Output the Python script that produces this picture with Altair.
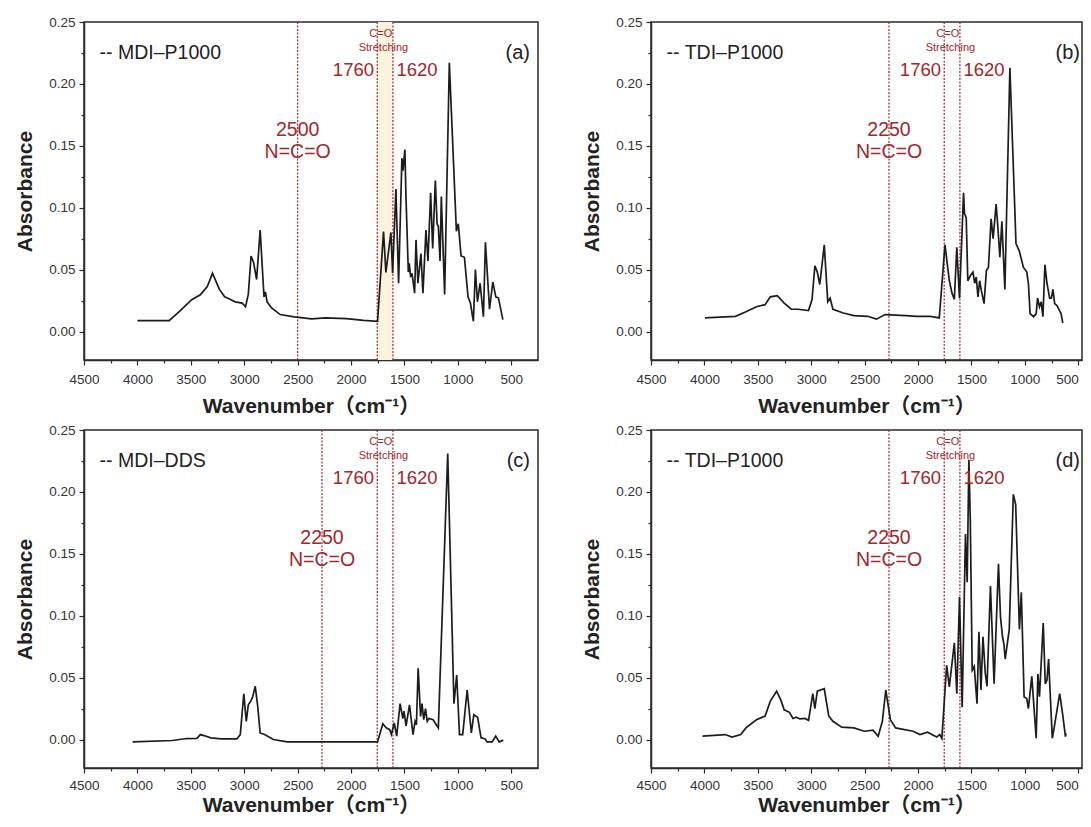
import altair as alt
import pandas as pd

# ---------------- data ----------------
wn_a = [4000, 3703, 3606, 3492, 3411, 3346, 3297, 3232, 3183, 3134, 3085, 3020, 2988, 2962, 2936, 2913, 2884, 2851,
        2815, 2802, 2786, 2744, 2663, 2532, 2370, 2240, 2045, 1882, 1752, 1696, 1674, 1627, 1611, 1580, 1555, 1524,
        1514, 1496, 1486, 1464, 1455, 1442, 1430, 1417, 1405, 1392, 1374, 1346, 1327, 1299, 1280, 1255, 1236, 1211,
        1195, 1183, 1167, 1155, 1124, 1080, 1014, 996, 970, 939, 905, 883, 855, 836, 817, 792, 761, 742, 704, 673,
        645, 620, 579]
ab_a = [0.0088, 0.0088, 0.0163, 0.0257, 0.0297, 0.0364, 0.047, 0.034, 0.028, 0.026, 0.024, 0.023, 0.020, 0.030,
        0.061, 0.056, 0.042, 0.082, 0.028, 0.032, 0.024, 0.019, 0.0137, 0.0118, 0.0102, 0.011, 0.0104, 0.009, 0.0083,
        0.0807, 0.0477, 0.080, 0.047, 0.115, 0.039, 0.140, 0.130, 0.147, 0.109, 0.048, 0.055, 0.044, 0.047, 0.039,
        0.031, 0.074, 0.039, 0.063, 0.031, 0.082, 0.057, 0.112, 0.067, 0.122, 0.087, 0.085, 0.057, 0.109, 0.030,
        0.217, 0.081, 0.087, 0.061, 0.060, 0.028, 0.023, 0.0083, 0.050, 0.024, 0.039, 0.012, 0.072, 0.018, 0.040,
        0.028, 0.027, 0.0096]

wn_b = [3995, 3709, 3611, 3513, 3432, 3383, 3318, 3253, 3187, 3122, 3025, 2992, 2966, 2943, 2920, 2878, 2845, 2823,
        2797, 2699, 2601, 2471, 2390, 2308, 2113, 2015, 1885, 1801, 1748, 1707, 1682, 1660, 1637, 1612, 1574, 1565,
        1549, 1534, 1511, 1486, 1470, 1455, 1439, 1423, 1407, 1382, 1360, 1341, 1316, 1297, 1269, 1250, 1234, 1215,
        1187, 1140, 1083, 1052, 1014, 982, 967, 951, 919, 894, 881, 863, 847, 831, 812, 793, 768, 752, 737, 721,
        699, 677, 661, 645]
ab_b = [0.011, 0.0123, 0.016, 0.020, 0.0217, 0.028, 0.029, 0.023, 0.018, 0.018, 0.017, 0.026, 0.053, 0.048, 0.038,
        0.070, 0.024, 0.027, 0.018, 0.015, 0.0128, 0.0123, 0.010, 0.0137, 0.0128, 0.0123, 0.0123, 0.011, 0.070,
        0.041, 0.031, 0.026, 0.068, 0.027, 0.112, 0.095, 0.092, 0.041, 0.045, 0.048, 0.039, 0.044, 0.028, 0.041,
        0.033, 0.0225, 0.049, 0.052, 0.091, 0.075, 0.103, 0.081, 0.060, 0.089, 0.034, 0.213, 0.071, 0.065, 0.052,
        0.048, 0.039, 0.0145, 0.012, 0.0145, 0.027, 0.020, 0.024, 0.012, 0.054, 0.039, 0.027, 0.027, 0.034, 0.0225,
        0.021, 0.017, 0.0145, 0.007]

wn_c = [4045, 3671, 3541, 3443, 3411, 3378, 3313, 3215, 3069, 3037, 3004, 2981, 2962, 2939, 2923, 2897, 2874, 2851,
        2809, 2728, 2598, 1752, 1703, 1671, 1638, 1622, 1596, 1573, 1541, 1515, 1505, 1485, 1453, 1420, 1401, 1388,
        1372, 1349, 1336, 1320, 1303, 1287, 1271, 1232, 1183, 1095, 1037, 1011, 985, 955, 913, 874, 851, 815, 783,
        744, 728, 679, 646, 614, 575]
ab_c = [-0.0019, -0.0008, 0.0008, 0.001, 0.004, 0.0032, 0.0013, 0.0005, 0.0005, 0.004, 0.037, 0.0147, 0.028, 0.031,
        0.034, 0.043, 0.027, 0.0053, 0.004, 0.0, -0.0019, -0.0019, 0.0128, 0.0094, 0.008, 0.004, 0.0134, 0.0027,
        0.029, 0.017, 0.023, 0.011, 0.028, 0.004, 0.0147, 0.012, 0.0575, 0.0187, 0.029, 0.016, 0.025, 0.0147, 0.017,
        0.016, 0.0094, 0.231, 0.029, 0.052, 0.004, 0.004, 0.040, 0.0053, 0.020, 0.018, 0.0013, 0.0005, -0.0019,
        -0.0019, 0.0027, -0.0019, -0.0005]

wn_d = [4018, 3806, 3741, 3660, 3611, 3513, 3432, 3383, 3324, 3285, 3253, 3204, 3171, 3139, 3106, 3057, 3025, 2985,
        2966, 2943, 2878, 2836, 2797, 2715, 2601, 2503, 2422, 2373, 2334, 2302, 2259, 2210, 2047, 1982, 1911, 1826,
        1797, 1777, 1732, 1707, 1660, 1637, 1612, 1587, 1556, 1540, 1524, 1511, 1493, 1474, 1448, 1430, 1411, 1392,
        1370, 1354, 1322, 1288, 1247, 1228, 1209, 1196, 1184, 1146, 1108, 1086, 1051, 1033, 1007, 982, 967, 935,
        894, 878, 863, 828, 809, 793, 778, 743, 724, 674, 645, 620, 614]
ab_d = [0.0027, 0.004, 0.002, 0.004, 0.0094, 0.016, 0.019, 0.031, 0.039, 0.032, 0.024, 0.022, 0.017, 0.018, 0.0166,
        0.017, 0.0155, 0.037, 0.025, 0.039, 0.041, 0.019, 0.0147, 0.010, 0.0094, 0.0067, 0.0075, 0.0027, 0.0147,
        0.040, 0.016, 0.0094, 0.0067, 0.004, 0.0059, 0.002, 0.004, 0.0008, 0.060, 0.0425, 0.078, 0.037, 0.115,
        0.026, 0.166, 0.127, 0.226, 0.179, 0.056, 0.059, 0.029, 0.087, 0.040, 0.083, 0.053, 0.043, 0.124, 0.045,
        0.142, 0.099, 0.083, 0.077, 0.065, 0.089, 0.198, 0.190, 0.089, 0.119, 0.0345, 0.033, 0.025, 0.051, 0.001,
        0.053, 0.0345, 0.094, 0.045, 0.048, 0.065, 0.001, 0.0104, 0.037, 0.0198, 0.0023, 0.005]

sample_names = ["-- MDI\u2013P1000", "-- TDI\u2013P1000", "-- MDI\u2013DDS", "-- TDI\u2013P1000"]
panel_letters = ["(a)", "(b)", "(c)", "(d)"]
letter_positions = [325, 484, 325, 484]
nco_positions = [2500, 2272, 2272, 2272]
nco_numbers = ["2500", "2250", "2250", "2250"]
co_lines = [1755, 1608]
band_panels = [True, False, False, False]

x_tick_values = [4500, 4250, 4000, 3750, 3500, 3250, 3000, 2750, 2500, 2250, 2000, 1750, 1500, 1250, 1000, 750, 500]
y_tick_values = [0.0, 0.025, 0.05, 0.075, 0.10, 0.125, 0.15, 0.175, 0.20, 0.225, 0.25]

RED = "#A3262A"
INK = "#222222"
FONT = "Liberation Sans, Noto Sans CJK SC, sans-serif"
W_LEFT, W_RIGHT, H = 454, 431, 338
PX_PER_UNIT = W_LEFT / 4250.0
X_END = {"left": 250, "right": round(4500 - W_RIGHT / PX_PER_UNIT)}

YSCALE = alt.Scale(domain=[-0.023, 0.25], nice=False, zero=False)
YAXIS = alt.Axis(values=y_tick_values, format=".2f", labelFlush=False, labelPadding=4,
                 labelExpr="round(datum.value*1000) % 50 === 0 ? datum.label : ''",
                 tickSize={"condition": {"test": "round(datum.value*1000) % 50 !== 0", "value": 3}, "value": 5},
                 title="Absorbance", titlePadding=13)


def make_xaxis(col, row):
    kw = {}
    if col == "right":
        kw["labelAlign"] = {"condition": {"test": "datum.value === 500", "value": "right"}, "value": "center"}
    return alt.Axis(values=x_tick_values, format="d", labelFlush=False,
                    labelPadding=7 if row == "top" else 5,
                    labelExpr="datum.value % 500 === 0 ? datum.label : ''",
                    tickSize={"condition": {"test": "datum.value % 500 !== 0", "value": 3}, "value": 5},
                    title="Wavenumber\uff08cm\u207b\u00b9\uff09", titlePadding=10 if row == "top" else 3, **kw)


def panel(i, wn, ab):
    col = "left" if i % 2 == 0 else "right"
    row = "top" if i < 2 else "bottom"
    width = W_LEFT if col == "left" else W_RIGHT
    xscale = alt.Scale(domain=[4500, X_END[col]], nice=False, zero=False)
    xaxis = make_xaxis(col, row)
    df = pd.DataFrame({"wn": wn, "ab": ab})
    layers = []
    if band_panels[i]:
        band = pd.DataFrame({"x1": [co_lines[0]], "x2": [co_lines[1]]})
        layers.append(alt.Chart(band).mark_rect(color="#FBF3DE").encode(
            x=alt.X("x1:Q", scale=xscale, axis=xaxis), x2="x2:Q"))
    rules = pd.DataFrame({"x": [nco_positions[i]] + co_lines})
    layers.append(alt.Chart(rules).mark_rule(color=RED, strokeDash=[2, 1.5], strokeWidth=1.2).encode(
        x=alt.X("x:Q", scale=xscale, axis=xaxis)))
    layers.append(alt.Chart(df).mark_line(color="#1c1c1c", strokeWidth=1.7, clip=True).encode(
        x=alt.X("wn:Q", scale=xscale, axis=xaxis),
        y=alt.Y("ab:Q", scale=YSCALE, axis=YAXIS),
        order="idx:Q").transform_window(idx="row_number()"))

    txt = pd.DataFrame({
        "x": [4354, letter_positions[i], nco_positions[i], nco_positions[i], 1722, 1697, 1785, 1575],
        "y": [0.225, 0.225, 0.163, 0.1448, 0.2407, 0.2286, 0.211, 0.211],
        "t": [sample_names[i], panel_letters[i], nco_numbers[i], "N=C=O", "C=O", "Stretching", "1760", "1620"],
        "s": [19.5, 20, 19.5, 19.5, 11, 11, 18.5, 18.5],
        "c": [INK, INK, RED, RED, RED, RED, RED, RED],
        "a": ["left", "right", "center", "center", "center", "center", "right", "left"],
    })
    for al in ["left", "center", "right"]:
        layers.append(alt.Chart(txt).transform_filter(alt.datum.a == al).mark_text(
            align=al, baseline="middle", font=FONT, clip=True).encode(
            x=alt.X("x:Q", scale=xscale, axis=xaxis),
            y=alt.Y("y:Q", scale=YSCALE, axis=YAXIS),
            text="t:N", size=alt.Size("s:Q", scale=None), color=alt.Color("c:N", scale=None)))
    return alt.layer(*layers).properties(width=width, height=H)


charts = [panel(0, wn_a, ab_a), panel(1, wn_b, ab_b), panel(2, wn_c, ab_c), panel(3, wn_d, ab_d)]

chart = alt.concat(*charts, columns=2, spacing={"row": 70, "column": 113}, bounds="flush").properties(
    padding={"left": 5, "top": 6, "right": 0, "bottom": 0}
).configure_view(
    stroke="#2b2b2b", strokeWidth=1.5
).configure_axis(
    grid=False, domainColor="#2b2b2b", domainWidth=1.5, tickColor="#2b2b2b", tickWidth=1.2,
    labelFont=FONT, labelFontSize=13.5, labelColor="#333333",
    titleFont=FONT, titleFontSize=21, titleFontWeight="bold", titleColor=INK
)

chart.save("out.html", embed_options={"renderer": "svg", "actions": False})
